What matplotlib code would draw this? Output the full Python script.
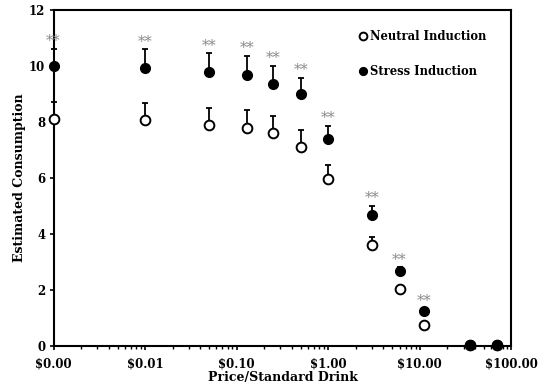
import numpy as np
import matplotlib.pyplot as plt
from matplotlib.ticker import FixedLocator, FixedFormatter, LogLocator, NullFormatter

# price per drink ($0 is put at 0.001 so it fits on the log axis)
price = [0.001, 0.01, 0.05, 0.13, 0.25, 0.50, 1, 3, 6, 11, 35, 70]

neutral = [8.10, 8.06, 7.88, 7.80, 7.62, 7.12, 5.96, 3.61, 2.02, 0.76, 0.02, 0.02]
neutral_se = [0.62, 0.63, 0.63, 0.64, 0.59, 0.59, 0.50, 0.29, 0.10, 0.05, 0.0, 0.0]

stress = [10.00, 9.92, 9.79, 9.68, 9.36, 8.99, 7.39, 4.68, 2.69, 1.25, 0.04, 0.03]
stress_se = [0.62, 0.68, 0.66, 0.68, 0.65, 0.59, 0.47, 0.33, 0.12, 0.08, 0.0, 0.0]

# p < .01 at these price points
sig = [True] * 10 + [False, False]

xtick_vals = [0.001, 0.01, 0.1, 1, 10, 100]
xtick_labels = ['$0.00', '$0.01', '$0.10', '$1.00', '$10.00', '$100.00']

plt.rcParams['font.family'] = 'DejaVu Serif'
plt.rcParams['font.weight'] = 'bold'

fig = plt.figure(figsize=(5.49, 3.87), dpi=100)
ax = fig.add_axes([0.0975, 0.106, 0.834, 0.868])

price = np.array(price)
neutral = np.array(neutral)
stress = np.array(stress)

ax.errorbar(price, neutral, yerr=[np.zeros_like(neutral), neutral_se], fmt='none',
            ecolor='black', elinewidth=1.3, capsize=2.2, capthick=1.3, clip_on=False, zorder=2)
ax.errorbar(price, stress, yerr=[np.zeros_like(stress), stress_se], fmt='none',
            ecolor='black', elinewidth=1.3, capsize=2.2, capthick=1.3, clip_on=False, zorder=2)

ax.plot(price, neutral, 'o', ms=7, mfc='white', mec='black', mew=1.4,
        clip_on=False, zorder=3, label='Neutral Induction')
ax.plot(price, stress, 'o', ms=7, mfc='black', mec='black', mew=1.0,
        clip_on=False, zorder=4, label='Stress Induction')

for x, y, e, s in zip(price, stress, stress_se, sig):
    if s:
        ax.annotate('**', (x, y + e), xytext=(0, 0.5), textcoords='offset points',
                    ha='center', va='bottom', fontsize=10.5, fontweight='normal',
                    color='#8a8a8a')

ax.set_xscale('log')
ax.set_xlim(0.001, 100)
ax.set_ylim(0, 12)
ax.set_yticks(range(0, 13, 2))
ax.xaxis.set_major_locator(FixedLocator(xtick_vals))
ax.xaxis.set_major_formatter(FixedFormatter(xtick_labels))
ax.xaxis.set_minor_locator(LogLocator(base=10, subs=np.arange(2, 10)))
ax.xaxis.set_minor_formatter(NullFormatter())

ax.tick_params(axis='both', which='major', direction='out', length=3, width=1.2,
               labelsize=8.5, pad=3)
ax.tick_params(axis='x', which='major', pad=5)
ax.tick_params(axis='x', which='minor', direction='out', length=2, width=1.0)
for sp in ax.spines.values():
    sp.set_linewidth(1.5)

ax.set_xlabel('Price/Standard Drink', fontsize=9, fontweight='bold', labelpad=1)
ax.set_ylabel('Estimated Consumption', fontsize=9, fontweight='bold', labelpad=2)

leg = ax.legend(loc='upper left', bbox_to_anchor=(0.66, 0.955), frameon=False,
                fontsize=8.3, markerscale=0.8, handlelength=0.5, handletextpad=0.3,
                labelspacing=1.9, borderaxespad=0)

fig.savefig('out.png', dpi=100)
